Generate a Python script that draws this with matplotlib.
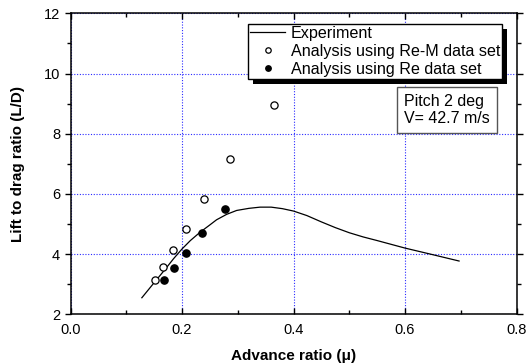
import matplotlib
matplotlib.use('Agg')
import matplotlib.pyplot as plt
from matplotlib.patches import Rectangle
from matplotlib.ticker import MultipleLocator

plt.rcParams['font.family'] = ['Liberation Sans', 'DejaVu Sans']

# Measured lift-to-drag ratio curve
exp_mu = [0.128, 0.150, 0.170, 0.185, 0.200, 0.215, 0.232, 0.250, 0.262, 0.280,
          0.298, 0.320, 0.340, 0.360, 0.380, 0.400, 0.424, 0.450, 0.475, 0.500,
          0.525, 0.550, 0.600, 0.650, 0.697]
exp_ld = [2.55, 3.05, 3.50, 3.85, 4.17, 4.45, 4.72, 4.97, 5.14, 5.32,
          5.45, 5.52, 5.56, 5.56, 5.51, 5.43, 5.28, 5.07, 4.88, 4.71,
          4.57, 4.45, 4.20, 3.98, 3.77]

# Analysis with Re-M airfoil data
rem_mu = [0.152, 0.166, 0.183, 0.207, 0.239, 0.286, 0.365]
rem_ld = [3.14, 3.56, 4.13, 4.84, 5.83, 7.17, 8.94]

# Analysis with Re-only airfoil data
re_mu = [0.168, 0.186, 0.207, 0.236, 0.277]
re_ld = [3.14, 3.54, 4.05, 4.69, 5.49]

fig = plt.figure(figsize=(5.27, 3.64), dpi=100)
ax = fig.add_axes([70.5 / 527, 1 - 314.3 / 364, 446 / 527, 301 / 364])

ax.plot(exp_mu, exp_ld, color='black', lw=0.9, label='Experiment', zorder=3)
ax.plot(rem_mu, rem_ld, 'o', mfc='white', mec='black', mew=0.9, ms=5.2,
        label='Analysis using Re-M data set', zorder=4)
ax.plot(re_mu, re_ld, 'o', mfc='black', mec='black', ms=5.2,
        label='Analysis using Re data set', zorder=4)

ax.set_xlim(0.0, 0.8)
ax.set_ylim(2, 12)
ax.xaxis.set_major_locator(MultipleLocator(0.2))
ax.xaxis.set_minor_locator(MultipleLocator(0.1))
ax.yaxis.set_major_locator(MultipleLocator(2))
ax.yaxis.set_minor_locator(MultipleLocator(1))
ax.set_xticks([0.0, 0.2, 0.4, 0.6, 0.8])
ax.set_xticklabels(['0.0', '0.2', '0.4', '0.6', '0.8'])

ax.grid(True, which='major', color='#2a2aff', ls=(0, (1, 1.5)), lw=0.8)
for s in ax.spines.values():
    s.set_linewidth(1.1)

ax.tick_params(axis='both', which='both', labelsize=10.5, width=1, colors='black')
ax.tick_params(axis='both', which='major', length=4)
ax.tick_params(axis='both', which='minor', length=3)
ax.tick_params(axis='y', which='both', direction='out', right=True)
ax.tick_params(axis='x', which='both', direction='in', top=True)
ax.tick_params(axis='x', pad=6)

ax.set_xlabel('Advance ratio (\u03bc)', fontsize=11, fontweight='bold', labelpad=9)
ax.set_ylabel('Lift to drag ratio (L/D)', fontsize=11, fontweight='bold', labelpad=13.5)

leg = ax.legend(loc='upper left', bbox_to_anchor=(0.3987, 0.9645), frameon=True,
                fancybox=False, edgecolor='black', framealpha=1, fontsize=11.6,
                handlelength=2.2, handletextpad=0.35, borderpad=0.1,
                labelspacing=0.2, borderaxespad=0, markerscale=0.75)
leg.get_frame().set_linewidth(1.0)
leg.set_zorder(6)

# drop shadow drawn as two strips along the right and bottom of the legend
fig.canvas.draw()
bb = leg.get_window_extent()
inv = ax.transAxes.inverted()
(rx0, ry0), (rx1, ry1) = inv.transform([(bb.x1, bb.y0 - 5), (bb.x1 + 5, bb.y1 - 5)])
(bx0, by0), (bx1, by1) = inv.transform([(bb.x0 + 5, bb.y0 - 5), (bb.x1 + 5, bb.y0)])
for (sx, sy, sw, sh) in [(rx0, ry0, rx1 - rx0, ry1 - ry0),
                         (bx0, by0, bx1 - bx0, by1 - by0)]:
    ax.add_patch(Rectangle((sx, sy), sw, sh, transform=ax.transAxes,
                           facecolor='black', edgecolor='none',
                           zorder=7, clip_on=False))

ax.text(0.748, 0.679, 'Pitch 2 deg\nV= 42.7 m/s', transform=ax.transAxes,
        fontsize=11.5, ha='left', va='center', linespacing=1.2, zorder=6,
        bbox=dict(boxstyle='square,pad=0.45', facecolor='white',
                  edgecolor='#555555', lw=1.0))

fig.savefig('out.png', dpi=100)
